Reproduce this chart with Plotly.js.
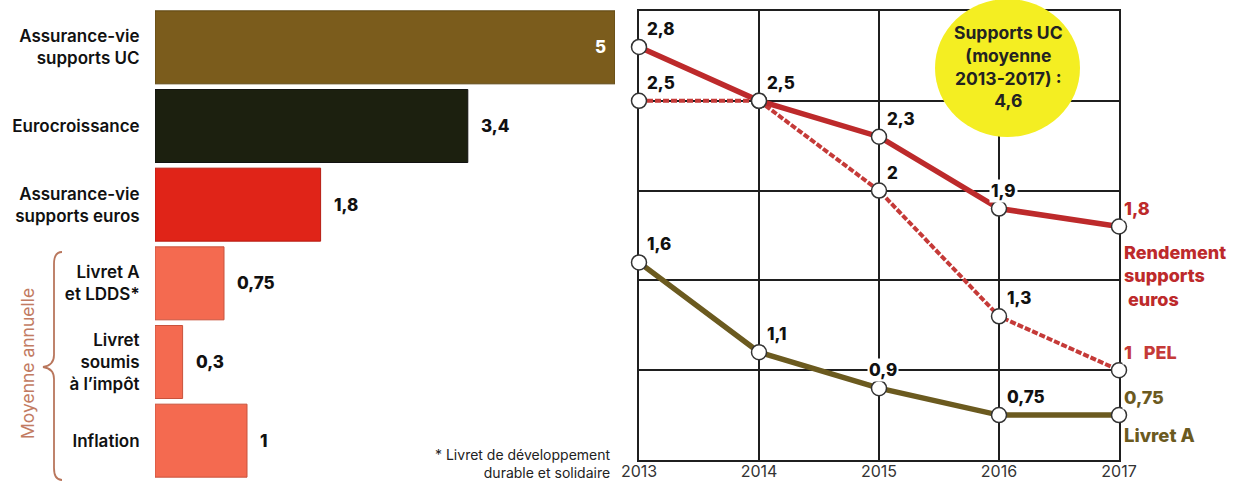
<!DOCTYPE html>
<html><head><meta charset="utf-8">
<script src="https://cdn.plot.ly/plotly-3.0.1.min.js"></script>
<style>html,body{margin:0;padding:0;background:#fff}#chart{width:1240px;height:483px}</style>
</head><body><div id="chart"></div>
<script>
// ---------- data ----------
const barCategories = ['Assurance-vie<br>supports UC', 'Eurocroissance', 'Assurance-vie<br>supports euros', 'Livret A<br>et LDDS*', 'Livret<br>soumis<br>à l\u2019impôt', 'Inflation'];
const barValues = [5, 3.4, 1.8, 0.75, 0.3, 1];
const barLabels = ['5', '3,4', '1,8', '0,75', '0,3', '1'];

const years = [2013, 2014, 2015, 2016, 2017];
const rendementEuros = [2.8, 2.5, 2.3, 1.9, 1.8];
const pel = [2.5, 2.5, 2.0, 1.3, 1.0];
const livretA = [1.6, 1.1, 0.9, 0.75, 0.75];
const rendementLabels = ['2,8', '2,5', '2,3', '1,9', '1,8'];
const pelLabels = ['2,5', '', '2', '1,3', '1\u00a0\u00a0\u00a0PEL'];
const livretALabels = ['1,6', '1,1', '0,9', '0,75', '0,75'];
const ucMoyenneLabel = 'Supports UC<br>(moyenne<br>2013-2017) :<br>4,6';
const footnote = '* Livret de développement<br>durable et solidaire';
const sideLabel = 'Moyenne annuelle';

// ---------- styles ----------
const W = 1240, H = 483;
const FONT = 'Inter, Roboto, "Noto Sans", sans-serif';
const barColors = ['#7b5c1c', '#1c200f', '#e02418', '#f46a50', '#f46a50', '#f46a50'];
const barLineColors = ['#5e4614', '#111', '#b51c12', '#c8523c', '#c8523c', '#c8523c'];
const RED = '#bd2a2b', OLIVE = '#6b5a1f', PELRED = '#c53a38';
const px = (x, y) => (x / W).toFixed(5) + ' ' + (1 - y / H).toFixed(5);

const traces = [
  {
    type: 'bar', orientation: 'h', x: barValues, y: barCategories, xaxis: 'x', yaxis: 'y',
    marker: { color: barColors, line: { color: barLineColors, width: 1 } },
    hoverinfo: 'skip'
  },
  {
    type: 'scatter', mode: 'lines+markers', x: years, y: pel, xaxis: 'x2', yaxis: 'y2',
    line: { color: PELRED, width: 4, dash: '6px,2px' }, cliponaxis: false,
    marker: { size: 15, color: '#fff', line: { color: '#333', width: 1.5 } }
  },
  {
    type: 'scatter', mode: 'lines+markers', x: years, y: rendementEuros, xaxis: 'x2', yaxis: 'y2',
    line: { color: RED, width: 5.5 }, cliponaxis: false,
    marker: { size: 15, color: '#fff', line: { color: '#333', width: 1.5 } }
  },
  {
    type: 'scatter', mode: 'lines+markers', x: years, y: livretA, xaxis: 'x2', yaxis: 'y2',
    line: { color: OLIVE, width: 5.5 }, cliponaxis: false,
    marker: { size: 15, color: '#fff', line: { color: '#333', width: 1.5 } }
  }
];

const annotations = [];
// bar value labels
barValues.forEach((v, i) => {
  const inside = i === 0;
  annotations.push({
    x: v, y: barCategories[i], xref: 'x', yref: 'y', text: barLabels[i], showarrow: false,
    xanchor: inside ? 'right' : 'left', xshift: inside ? -7 : 11,
    font: { family: FONT, size: 17, weight: 800, color: inside ? '#fff' : '#111' }
  });
});
// line labels
function addLabels(vals, labels, centeredIdx, lastColor) {
  vals.forEach((v, i) => {
    if (!labels[i]) return;
    const centered = centeredIdx.includes(i);
    const last = i === 4;
    annotations.push({
      x: years[i], y: v, xref: 'x2', yref: 'y2', text: labels[i], showarrow: false,
      xanchor: centered ? 'center' : 'left', xshift: centered ? 4 : (last ? 3 : 6),
      yanchor: 'middle', yshift: 18, bgcolor: '#fff', borderpad: 1,
      font: { family: FONT, size: last ? 18 : 17, weight: 800, color: (last && lastColor) ? lastColor : '#111' }
    });
  });
}
addLabels(rendementEuros, rendementLabels, [3], RED);
addLabels(pel, pelLabels, [], PELRED);
addLabels(livretA, livretALabels, [2], OLIVE);

// series names
annotations.push({
  x: years[4], y: rendementEuros[4], xref: 'x2', yref: 'y2', text: 'Rendement<br>supports<br>\u00a0euros',
  showarrow: false, xanchor: 'left', yanchor: 'top', xshift: 3, yshift: -13, align: 'left',
  font: { family: FONT, size: 18, weight: 800, color: RED }
});
annotations.push({
  x: years[4], y: livretA[4], xref: 'x2', yref: 'y2', text: 'Livret A',
  showarrow: false, xanchor: 'left', yanchor: 'middle', xshift: 3, yshift: -20,
  font: { family: FONT, size: 18.5, weight: 800, color: OLIVE }
});
// circle text
annotations.push({
  x: 1008 / W, y: 1 - 66 / H, xref: 'paper', yref: 'paper', text: ucMoyenneLabel, showarrow: false,
  xanchor: 'center', yanchor: 'middle', align: 'center',
  font: { family: FONT, size: 17.5, weight: 700, color: '#222' }
});
// side label
annotations.push({
  x: 27 / W, y: 1 - 364 / H, xref: 'paper', yref: 'paper', text: sideLabel, showarrow: false,
  textangle: -90, xanchor: 'center', yanchor: 'middle',
  font: { family: FONT, size: 17.5, weight: 400, color: '#c27b62' }
});
// footnote
annotations.push({
  x: 613 / W, y: 1 - 463 / H, xref: 'paper', yref: 'paper', text: footnote, showarrow: false,
  xanchor: 'right', yanchor: 'middle', align: 'right',
  font: { family: FONT, size: 14, weight: 400, color: '#222' }
});

const bracePath = 'M ' + px(62, 252) + ' C ' + px(56, 252) + ' ' + px(54, 256) + ' ' + px(54, 264) +
  ' L ' + px(54, 355) + ' C ' + px(54, 362) + ' ' + px(50, 366) + ' ' + px(43, 367) +
  ' C ' + px(50, 368) + ' ' + px(54, 372) + ' ' + px(54, 379) +
  ' L ' + px(54, 468) + ' C ' + px(54, 476) + ' ' + px(56, 480) + ' ' + px(62, 480);

const shapes = [
  { type: 'circle', xref: 'paper', yref: 'paper', x0: 935 / W, x1: 1080 / W, y0: 1 - 137 / H, y1: 1 + 1 / H,
    fillcolor: '#f4ee22', line: { width: 0 }, layer: 'above' },
  { type: 'path', xref: 'paper', yref: 'paper', path: bracePath, line: { color: '#b9765c', width: 1.8 } }
];

const gridColor = '#1f1f1f';
const layout = {
  width: W, height: H, margin: { l: 0, r: 0, t: 0, b: 0 },
  paper_bgcolor: '#fff', plot_bgcolor: 'rgba(0,0,0,0)', showlegend: false,
  font: { family: FONT, color: '#111' },
  bargap: 0.072,
  xaxis: { domain: [155 / W, 615 / W], range: [0, 5], visible: false, fixedrange: true },
  yaxis: {
    domain: [1 - 480 / H, 1 - 8 / H], autorange: 'reversed', type: 'category',
    showgrid: false, zeroline: false, showline: false,
    ticks: 'outside', ticklen: 11, tickcolor: 'rgba(0,0,0,0)',
    tickfont: { family: FONT, size: 17, weight: 600, color: '#111' }
  },
  xaxis2: {
    domain: [639 / W, 1119 / W], range: [2013, 2017], anchor: 'y2', layer: 'below traces',
    tickvals: years, ticktext: years.map(String),
    showgrid: true, gridcolor: gridColor, gridwidth: 1.8,
    showline: true, mirror: true, linecolor: gridColor, linewidth: 1.8, zeroline: false,
    ticks: '', ticklabelstandoff: -4, tickfont: { family: FONT, size: 16, color: '#333' }
  },
  yaxis2: {
    domain: [1 - 460 / H, 1 - 11 / H], range: [0.5, 3], anchor: 'x2', dtick: 0.5, layer: 'below traces',
    showgrid: true, gridcolor: gridColor, gridwidth: 1.8,
    showline: true, mirror: true, linecolor: gridColor, linewidth: 1.8, zeroline: false,
    showticklabels: false, ticks: ''
  },
  annotations, shapes
};

Plotly.newPlot('chart', traces, layout, { staticPlot: true, displayModeBar: false });
</script>
</body></html>
